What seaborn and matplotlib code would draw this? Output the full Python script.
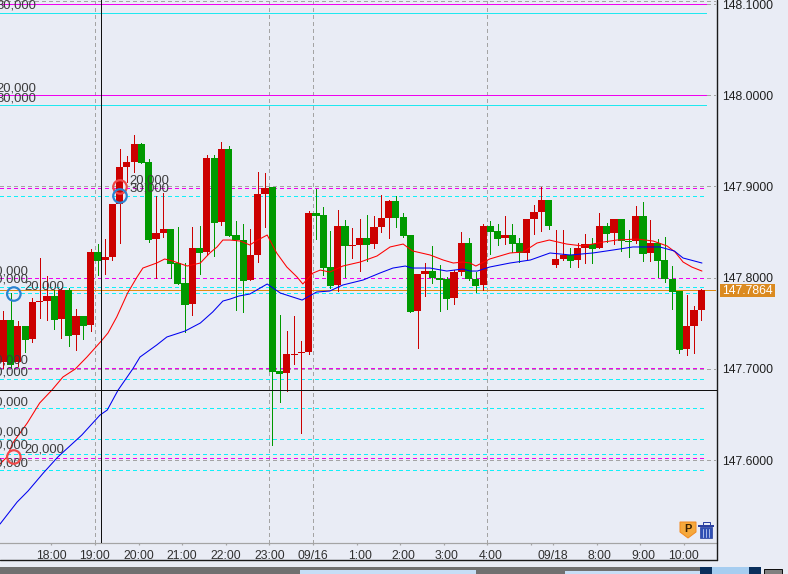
import matplotlib
matplotlib.use("Agg")
import matplotlib.pyplot as plt
import matplotlib.transforms as mtrans
from matplotlib.patches import Rectangle, Polygon
import numpy as np
import pandas as pd
import seaborn as sns

opens = [147.7074,147.7535,147.7074,147.7469,147.7327,147.7732,147.7743,147.7798,147.7546,147.7864,147.7371,147.7579,147.7480,147.8281,147.8193,147.8226,147.8807,147.9213,147.9268,147.9465,147.9268,147.8423,147.8489,147.8533,147.8160,147.7941,147.7711,147.8325,147.8281,147.9312,147.8610,147.9410,147.8467,
         147.8412,147.7974,147.8248,147.8917,147.8994,147.6976,147.6954,147.7151,147.7173,147.7184,147.8708,147.8686,147.8116,147.7919,147.8566,147.8347,147.8358,147.8434,147.8368,147.8555,147.8654,147.8840,147.8664,147.8467,147.7634,147.8039,147.8072,147.7996,147.7985,147.7776,147.8061,147.8379,
         147.7985,147.7919,147.8566,147.8511,147.8434,147.8467,147.8379,147.8270,147.8643,147.8719,147.8851,147.8138,147.8204,147.8248,147.8193,147.8325,147.8368,147.8325,147.8566,147.8489,147.8643,147.8401,147.8401,147.8675,147.8270,147.8379,147.8193,147.7985,147.7853,147.7217,147.7469,147.7645]
highs = [147.7634,147.7831,147.7524,147.7469,147.7776,147.8215,147.8018,147.7864,147.7886,147.7886,147.7656,147.7579,147.8314,147.8368,147.8423,147.8807,147.9410,147.9334,147.9564,147.9476,147.9301,147.8895,147.8928,147.8533,147.8555,147.8160,147.8555,147.8566,147.9345,147.9345,147.9487,147.9443,147.8621,
         147.8588,147.8533,147.9158,147.9147,147.8994,147.7590,147.7414,147.7579,147.7305,147.8730,147.8972,147.8774,147.8511,147.8741,147.8632,147.8544,147.8643,147.8686,147.8675,147.8906,147.8851,147.8895,147.8708,147.8467,147.8039,147.8160,147.8347,147.8138,147.8007,147.8083,147.8500,147.8434,
         147.8061,147.8588,147.8621,147.8588,147.8675,147.8588,147.8434,147.8643,147.8796,147.8994,147.8851,147.8522,147.8522,147.8325,147.8379,147.8478,147.8434,147.8708,147.8599,147.8643,147.8643,147.8522,147.8785,147.8829,147.8632,147.8423,147.8445,147.8127,147.7853,147.7809,147.7689,147.7875]
lows = [147.7009,147.7009,147.7031,147.7184,147.7294,147.7557,147.7535,147.7436,147.7338,147.7250,147.7206,147.7327,147.7414,147.8028,147.8039,147.8193,147.8379,147.9048,147.9158,147.9257,147.8390,147.7996,147.8445,147.7996,147.7930,147.7403,147.7590,147.8039,147.8248,147.8237,147.8577,147.8456,147.7645,
        147.7623,147.7974,147.8171,147.8555,147.6165,147.6636,147.6757,147.7053,147.6296,147.7162,147.8423,147.8028,147.7886,147.7853,147.8007,147.8215,147.8072,147.8182,147.8325,147.8500,147.8434,147.8555,147.8445,147.7623,147.7228,147.7798,147.7941,147.7634,147.7656,147.7711,147.8028,147.7974,
        147.7842,147.7864,147.8259,147.8358,147.8368,147.8281,147.8171,147.8204,147.8478,147.8511,147.8533,147.8116,147.8193,147.8116,147.8116,147.8160,147.8160,147.8325,147.8390,147.8368,147.8292,147.8226,147.8379,147.8182,147.8182,147.8007,147.7952,147.7656,147.7173,147.7151,147.7173,147.7535]
closes = [147.7535,147.7041,147.7469,147.7316,147.7732,147.7743,147.7798,147.7535,147.7864,147.7360,147.7579,147.7469,147.8281,147.8182,147.8226,147.8807,147.9213,147.9268,147.9465,147.9257,147.8412,147.8489,147.8533,147.8149,147.7930,147.7700,147.8325,147.8270,147.9312,147.8599,147.9410,147.8456,147.8412,
          147.7963,147.8248,147.8917,147.8983,147.6965,147.6943,147.7162,147.7162,147.7184,147.8708,147.8675,147.8105,147.7908,147.8566,147.8347,147.8358,147.8434,147.8358,147.8555,147.8654,147.8840,147.8654,147.8456,147.7623,147.8039,147.8072,147.7996,147.7974,147.7765,147.8061,147.8379,147.7985,
          147.7908,147.8566,147.8500,147.8423,147.8467,147.8368,147.8270,147.8643,147.8719,147.8851,147.8566,147.8204,147.8248,147.8182,147.8325,147.8368,147.8314,147.8566,147.8478,147.8643,147.8401,147.8390,147.8675,147.8259,147.8379,147.8182,147.7985,147.7842,147.7206,147.7469,147.7645,147.7864]

ma_fast_pos = [-0.45,0.5,1.3,3.3,5.0,6.7,8.2,9.9,11.5,13.6,14.4,15.6,17.1,18.4,19.2,21.1,22.2,23.3,25.3,27.1,28.4,29.4,30.2,31.2,32.6,33.9,35.0,36.3,37.6,39.0,40.4,41.2,42.6,43.6,44.9,46.7,49.1,51.4,53.2,55.0,56.3,58.7,60.5,61.9,63.2,64.2,65.0,66.9,69.7,71.5,73.4,75.1,77.5,79.7,82.5,84.4,87.2,89.4,91.3,92.4,93.5,94.7,96.1]
ma_fast = [147.5956,147.6033,147.6186,147.6406,147.6625,147.6768,147.6910,147.6998,147.7129,147.7316,147.7393,147.7568,147.7831,147.8007,147.8105,147.8160,147.8204,147.8182,147.8127,147.8160,147.8270,147.8336,147.8412,147.8412,147.8401,147.8358,147.8412,147.8467,147.8270,147.8116,147.8007,147.7930,147.8050,147.8083,147.8061,147.8127,147.8171,147.8237,147.8336,147.8368,147.8292,147.8248,147.8193,147.8160,147.8171,147.8160,147.8127,147.8204,147.8270,147.8281,147.8379,147.8412,147.8368,147.8347,147.8390,147.8412,147.8423,147.8401,147.8347,147.8281,147.8171,147.8116,147.8072]
ma_slow_pos = [-0.45,1.9,3.4,5.5,7.5,10.8,13.3,14.3,15.8,17.8,18.8,21.1,22.5,25.0,27.1,28.8,30.2,31.2,32.4,33.9,36.3,38.1,41.1,43.1,44.9,46.7,49.5,51.8,53.6,55.3,56.2,58.7,61.0,63.2,64.2,65.2,66.9,69.7,72.5,75.2,78.0,81.1,83.9,86.6,90.3,92.3,93.5,96.1]
ma_slow = [147.5298,147.5539,147.5660,147.5857,147.6033,147.6274,147.6493,147.6548,147.6768,147.6998,147.7129,147.7261,147.7349,147.7414,147.7502,147.7623,147.7743,147.7765,147.7798,147.7820,147.7930,147.7831,147.7754,147.7842,147.7853,147.7919,147.7974,147.8050,147.8105,147.8127,147.8105,147.8105,147.8072,147.8094,147.8072,147.8072,147.8116,147.8160,147.8193,147.8270,147.8248,147.8270,147.8303,147.8336,147.8336,147.8292,147.8215,147.8160]

price_ticks = [147.6,147.7,147.8,147.9,148.0,148.1]
time_pos = [6.6,12.6,18.6,24.6,30.6,36.6,42.6,48.6,54.6,60.6,66.6,72.6,75.6,81.6,87.6,93.6]
time_labels = ["18:00","19:00","20:00","21:00","22:00","23:00","09/16","1:00","2:00","3:00","4:00","","09/18","8:00","9:00","10:00"]
session_lines = [12.6,36.6,42.6,66.6]
round_levels = [148.1030,148.1,148.0,147.9,147.8,147.7,147.6]
magenta_solid = [148.0997,148.0]
magenta_dash = [147.8988,147.7992,147.7013,147.6027]
cyan_solid = [148.0896,147.9893]
cyan_dash = [147.8895,147.7897,147.7831,147.6888,147.6570,147.6225,147.6071,147.5890]
last_price = 147.7864
cross_x, cross_y = 13.5, 147.6773
notes_right = [("30,000",148.0989),("20,000",148.0079),("30,000",147.9969)]
notes_left = [("20,000",147.8070),("20,000",147.7974),("20,000",147.7096),("20,000",147.6965),("20,000",147.6636),("20,000",147.6307),("20,000",147.6154),("20,000",147.5967)]
notes_free = [("20,000",17.3,147.9070),("30,000",17.3,147.8972),("20,000",2.85,147.7908),("20,000",2.85,147.6110)]
circles = [(16.05,147.8994,"#F04848"),(16.05,147.8895,"#2A82D0"),(1.45,147.7820,"#2A82D0"),(1.45,147.6033,"#F04848")]

BG = "#E9ECF5"; RED = "#CC0000"; GREEN = "#009900"
W, H = 788, 574
sns.set_theme(style="white", rc={"figure.facecolor": BG, "axes.facecolor": BG})
plt.rcParams["font.family"] = ["Liberation Sans", "DejaVu Sans"]
PX = 0.72

fig = plt.figure(figsize=(W/100, H/100), dpi=100)
ax = fig.add_axes([0, 1-543/H, 716.5/W, 543/H])
ax.set_xlim(-0.454, 98.1)
ax.set_ylim(147.5090, 148.1044)

right_a, right_b = 96.66, 97.9
left = -0.454
dash = (0, (4, 3))
ax.hlines(round_levels, left, right_b, colors="#A4A4A4", lw=PX, linestyles=dash, zorder=1, antialiased=False)
ax.hlines(magenta_solid, left, right_a, colors="#F000F0", lw=PX, zorder=1.2, antialiased=False)
ax.hlines(magenta_dash, left, right_a, colors="#F000F0", lw=PX, linestyles=dash, zorder=1.2, antialiased=False)
ax.hlines(cyan_solid, left, right_a, colors="#20E8F0", lw=PX, zorder=1.2, antialiased=False)
ax.hlines(cyan_dash, left, right_a, colors="#10F0F8", lw=PX, linestyles=dash, zorder=1.2, antialiased=False)
ax.vlines(session_lines, 147.5090, 148.1044, colors="#A4A4A4", lw=PX, linestyles=dash, zorder=1, antialiased=False)
ax.hlines([last_price], left, right_b, colors="#E08A10", lw=PX, zorder=1.4, antialiased=False)

idx = np.arange(len(opens))
o, h, l, c = map(np.array, (opens, highs, lows, closes))
cols = np.where(c >= o, RED, GREEN)
ax.vlines(idx, l, h, colors=cols, lw=PX, zorder=2, antialiased=False)
ax.bar(idx, np.abs(c-o), bottom=np.minimum(o, c), width=0.99, color=cols, linewidth=0, zorder=2.1, antialiased=False)

sns.lineplot(data=pd.DataFrame({"i": ma_fast_pos, "p": ma_fast}), x="i", y="p", color="#FF0000", lw=PX*1.05, ax=ax, zorder=3, estimator=None, sort=False)
sns.lineplot(data=pd.DataFrame({"i": ma_slow_pos, "p": ma_slow}), x="i", y="p", color="#0000F0", lw=PX*1.05, ax=ax, zorder=3, estimator=None, sort=False)

ax.vlines([cross_x], 147.5090, 148.1044, colors="#101010", lw=PX, zorder=4, antialiased=False)
ax.hlines([cross_y], left, 98.1, colors="#101010", lw=PX, zorder=4, antialiased=False)

note_kw = dict(fontsize=13*PX, color="#3C3C3C", va="center", zorder=5, clip_on=True)
for t, p in notes_right:
    ax.text(4.5, p, t, ha="right", **note_kw)
for t, p in notes_left:
    ax.text(3.5, p, t, ha="right", **note_kw)
for t, x, p in notes_free:
    ax.text(x, p, t, ha="left", **note_kw)
for x, p, col in circles:
    ax.scatter([x], [p], s=(13.5*PX)**2, facecolors="none", edgecolors=col, linewidths=PX*2.2, zorder=6)

ax.set_xlabel(""); ax.set_ylabel("")
ax.set_xticks(time_pos, time_labels)
ax.yaxis.tick_right()
ax.set_yticks(price_ticks, [f"{v:.4f}" for v in price_ticks])
ax.tick_params(axis="x", length=2.5*PX, width=PX*1.2, color="#A4A4A4", pad=3, labelsize=12.2*PX, labelcolor="#303030", bottom=True)
ax.tick_params(axis="y", length=0, pad=4, labelsize=12.2*PX, labelcolor="#202020", right=False)
for sp in ("top", "left", "right"):
    ax.spines[sp].set_visible(False)
ax.spines["bottom"].set_color("#A4A4A4"); ax.spines["bottom"].set_linewidth(PX*1.2)

shift = mtrans.ScaledTranslation(3/100, 0, fig.dpi_scale_trans)
for lab, txt in zip(ax.get_xticklabels(), time_labels):
    if len(txt) == 4:
        lab.set_transform(lab.get_transform() + shift)

def fr(x0, y0, x1, y1, **kw):
    fig.add_artist(Rectangle((x0/W, 1-y1/H), (x1-x0)/W, (y1-y0)/H, transform=fig.transFigure, **kw))
def fl(xs, ys, **kw):
    fig.add_artist(plt.Line2D([x/W for x in xs], [1-y/H for y in ys], transform=fig.transFigure, **kw))
def fp(pts, **kw):
    fig.add_artist(Polygon([(x/W, 1-y/H) for x, y in pts], closed=True, transform=fig.transFigure, **kw))

fl([716.5, 716.5], [0, 560], color="#1A1A1A", lw=PX*1.4)
fl([0, 716.5], [560, 560], color="#1A1A1A", lw=PX*1.4)

fr(720, 284, 775, 297, facecolor="#DB8A20", edgecolor="none")
fig.text(747.5/W, 1-290.7/H, f"{last_price:.4f}", ha="center", va="center", color="white", fontsize=12.2*PX)

# P badge and bin icons
fp([(680,522),(696,522),(696,532),(688,538),(680,532)], facecolor="#F5A83C", edgecolor="#F28A20", lw=PX)
fig.text(688/W, 1-529/H, "P", ha="center", va="center", fontsize=11*PX, fontweight="bold", color="#3A2000")
fr(699.5, 527, 712, 538, facecolor="#3050B4", edgecolor="#2A40A0", lw=0.5)
for xs in (702.5, 705.7, 709):
    fl([xs, xs], [528.5, 536.5], color="#A8B8E8", lw=PX)
fr(698, 524.5, 714, 526.5, facecolor="#2A40A0", edgecolor="none")
fr(702.5, 522, 709.5, 524.5, facecolor=BG, edgecolor="#2A40A0", lw=PX)

# bottom scroller strip
fr(0, 567, 700, 574, facecolor="#707070", edgecolor="none")
fr(300, 570, 476, 574, facecolor="#C6DEF6", edgecolor="none")
fr(565, 571, 700, 574, facecolor="#C6DEF6", edgecolor="none")
fr(700, 567, 712, 574, facecolor="#0A2F5C", edgecolor="none")
fr(712, 567, 749, 574, facecolor="#A6CDF0", edgecolor="none")
fr(749, 567, 761, 574, facecolor="#0A2F5C", edgecolor="none")
fr(763.5, 569, 782, 575, facecolor="#808080", edgecolor="#101010", lw=PX)

fig.savefig("out.png", dpi=100, facecolor=BG)
